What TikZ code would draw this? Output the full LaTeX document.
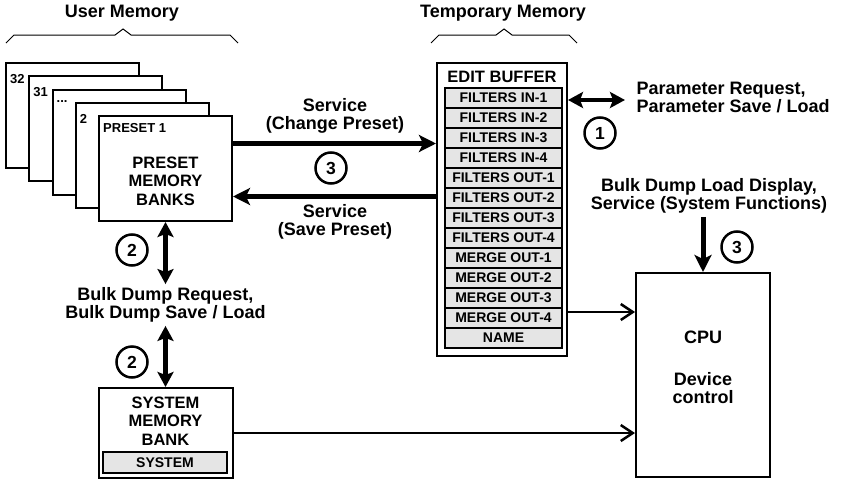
\documentclass[tikz,border=0pt]{standalone}
\usepackage{fontspec}
\setmainfont{Liberation Sans}
\usetikzlibrary{positioning,arrows.meta,calc}

\begin{document}
\begin{tikzpicture}[x=1pt,y=-1pt,
  bank/.style={rectangle,draw,line width=2pt,fill=white,minimum width=133pt,minimum height=105pt},
  membox/.style={rectangle,draw,line width=2pt,fill=white},
  bufcell/.style={rectangle,draw,line width=1.5pt,fill=gray!20,minimum width=117pt,minimum height=20pt,inner sep=0pt,font=\fontsize{14}{15}\selectfont\bfseries},
  txt/.style={font=\fontsize{18}{18}\selectfont\bfseries,align=center},
  boxtxt/.style={font=\fontsize{16.5}{18.5}\selectfont\bfseries,align=center},
  smalltxt/.style={font=\fontsize{13}{15}\selectfont\bfseries,inner sep=2pt},
  num/.style={circle,draw,line width=2.5pt,minimum size=31pt,inner sep=0pt,font=\fontsize{17.5}{19}\selectfont\bfseries},
  big/.style={line width=5pt,-{Stealth[length=17pt,width=17pt,inset=4pt]}},
  bigboth/.style={line width=4.5pt,{Stealth[length=15pt,width=16pt,inset=3pt]}-{Stealth[length=15pt,width=16pt,inset=3pt]}},
  feed/.style={line width=2.5pt,-{Straight Barb[length=12pt,width=16pt]}},
  brace/.style={line width=1pt},
]
\useasboundingbox (0,0) rectangle (843,479);

% === USER MEMORY: stacked preset banks ===
\foreach \n/\lab [count=\i from 0] in {32/32,31/31,dots/{...},2/2} {
  \node[bank] (b\n) at ({72.5+23.25*\i},{115.5+13.25*\i}) {};
  \node[smalltxt,anchor=north west] (l\n) at ([shift={(3,10)}]b\n.north west) {\lab};
}
\node[bank] (b1) at (165.5,168.5) {};
\node[smalltxt,anchor=north west] (l1) at ([shift={(3,6)}]b1.north west) {PRESET 1};
\node[boxtxt] (pmb) at (165.5,181) {PRESET\\MEMORY\\BANKS};

\draw[brace] (6,43) -- (14,35) -- (115,35) -- (123,29) -- (131,35) -- (230,35) -- (238,43);
\node[txt] (um) at (122,13) {User Memory};

% === TEMPORARY MEMORY: edit buffer ===
\node[membox,minimum width=130pt,minimum height=293pt] (buf) at (502,209.5) {};
\node[boxtxt] (buft) at (502,77) {EDIT BUFFER};
\foreach \c [count=\i] in {FILTERS IN-1,FILTERS IN-2,FILTERS IN-3,FILTERS IN-4,
  FILTERS OUT-1,FILTERS OUT-2,FILTERS OUT-3,FILTERS OUT-4,
  MERGE OUT-1,MERGE OUT-2,MERGE OUT-3,MERGE OUT-4,NAME}
  \node[bufcell] (c\i) at (503.5,{78+20*\i}) {\c};

\draw[brace] (431,43) -- (439,35) -- (496,35) -- (504,29) -- (512,35) -- (569,35) -- (577,43);
\node[txt] (tm) at (503,13) {Temporary Memory};

% === SERVICE between presets and buffer ===
\coordinate (cp) at ([yshift=25pt]b1.east);
\coordinate (sp) at ([yshift=-28pt]b1.east);
\draw[big] (cp) -- (cp -| buf.west);
\draw[big] (sp -| buf.west) -- (sp);
\node[txt] (chg) at (335,116) {Service\\(Change Preset)};
\node[txt] (sav) at (335,222) {Service\\(Save Preset)};
\node[num] (n3a) at (331,168) {3};

% === PARAMETER requests ===
\coordinate (par) at (625,100);
\draw[bigboth] (buf.east |- par) -- (par);
\node[txt,align=left,anchor=west] (part) at (633,97) {Parameter Request,\\Parameter Save / Load};
\node[num] (n1) at (600,133) {1};

% === CPU ===
\node[membox,minimum width=134pt,minimum height=204pt] (cpu) at (703,375) {};
\node[font=\fontsize{18}{18}\selectfont\bfseries,align=center] (cput) at (703,367) {CPU\\[24pt]Device\\control};
\node[txt] (bdl) at (709,196) {Bulk Dump Load Display,\\Service (System Functions)};
\draw[big] (bdl.south -| cpu.north) -- (cpu.north);
\node[num] (n3b) at (737,247) {3};

\coordinate (fo) at ([yshift=-102.5pt]buf.east);
\draw[feed] (fo) -- (fo -| cpu.west);

% === SYSTEM memory bank ===
\node[membox,minimum width=134pt,minimum height=90pt] (sys) at (165.5,433) {};
\node[boxtxt] (syst) at (165.5,421) {SYSTEM\\MEMORY\\BANK};
\node[bufcell,minimum width=124pt,minimum height=21pt] (sysc) at (165,462.5) {SYSTEM};
\draw[feed] (sys.east) -- (sys.east -| cpu.west);

% === BULK DUMP ===
\node[txt] (bulk) at (165.5,305) {Bulk Dump Request,\\Bulk Dump Save / Load};
\draw[bigboth] (b1.south) -- (bulk.north);
\draw[bigboth] (bulk.south) -- (sys.north);
\node[num] (n2a) at (132,250) {2};
\node[num] (n2b) at (132,362) {2};

\end{tikzpicture}
\end{document}
